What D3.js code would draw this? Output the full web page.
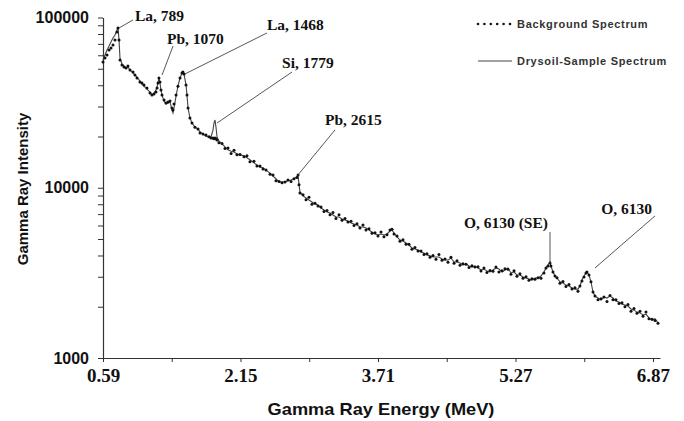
<!DOCTYPE html>
<html>
<head>
<meta charset="utf-8">
<script src="https://cdn.jsdelivr.net/npm/d3@7"></script>
<style>
  body { margin: 0; background: #fff; }
  text { fill: #111; }
</style>
</head>
<body>
<svg id="chart" width="684" height="421"></svg>
<script>
// channel energies (MeV)
const energies = [
  0.590, 0.613, 0.636, 0.659, 0.681, 0.704, 0.727, 0.750, 0.761, 0.773,
  0.784, 0.807, 0.830, 0.853, 0.875, 0.898, 0.933, 0.955, 0.978, 1.012,
  1.035, 1.058, 1.092, 1.127, 1.149, 1.172, 1.195, 1.207, 1.218, 1.229,
  1.241, 1.252, 1.264, 1.287, 1.309, 1.332, 1.355, 1.378, 1.389, 1.401,
  1.424, 1.446, 1.469, 1.492, 1.503, 1.515, 1.538, 1.549, 1.561, 1.583,
  1.606, 1.640, 1.675, 1.698, 1.732, 1.766, 1.800, 1.823, 1.846, 1.857,
  1.869, 1.880, 1.892, 1.914, 1.949, 1.983, 2.017, 2.052, 2.086, 2.120,
  2.154, 2.200, 2.234, 2.268, 2.314, 2.348, 2.383, 2.417, 2.451, 2.497,
  2.531, 2.565, 2.600, 2.634, 2.668, 2.702, 2.737, 2.771, 2.805, 2.817,
  2.828, 2.839, 2.874, 2.908, 2.942, 2.976, 3.011, 3.045, 3.079, 3.113,
  3.148, 3.182, 3.216, 3.250, 3.285, 3.319, 3.353, 3.387, 3.422, 3.456,
  3.490, 3.524, 3.559, 3.593, 3.627, 3.661, 3.696, 3.730, 3.764, 3.798,
  3.833, 3.867, 3.890, 3.913, 3.947, 3.981, 4.015, 4.050, 4.084, 4.118,
  4.152, 4.187, 4.221, 4.255, 4.289, 4.324, 4.358, 4.392, 4.426, 4.461,
  4.495, 4.529, 4.563, 4.598, 4.632, 4.666, 4.700, 4.735, 4.769, 4.803,
  4.837, 4.872, 4.906, 4.940, 4.974, 5.009, 5.043, 5.077, 5.111, 5.146,
  5.180, 5.214, 5.248, 5.283, 5.317, 5.351, 5.386, 5.420, 5.454, 5.488,
  5.523, 5.557, 5.591, 5.625, 5.648, 5.671, 5.694, 5.705, 5.728, 5.751,
  5.774, 5.808, 5.842, 5.876, 5.911, 5.945, 5.979, 6.013, 6.036, 6.059,
  6.082, 6.105, 6.116, 6.139, 6.162, 6.185, 6.208, 6.242, 6.276, 6.310,
  6.345, 6.379, 6.413, 6.447, 6.482, 6.516, 6.550, 6.584, 6.619, 6.653,
  6.687, 6.721, 6.756, 6.790, 6.824, 6.859, 6.893, 6.927
];

// background spectrum counts (dotted)
const background = [
  54800, 57800, 60200, 64400, 66200, 68900, 73800, 82200, 86800, 73800,
  56300, 52600, 51200, 50500, 51900, 49200, 47900, 45900, 44100, 41800,
  41200, 40100, 38500, 36000, 35000, 35500, 36500, 38500, 41200, 44100,
  41800, 37500, 35000, 32800, 31500, 31900, 32300, 29400, 28600, 31000,
  35000, 39500, 44100, 47200, 47900, 46600, 40100, 35000, 29400, 25700,
  24000, 22700, 22100, 21000, 20700, 20400, 19900, 19600, 19600, 19400,
  19600, 19400, 19100, 18400, 18200, 17000, 17100, 15900, 16600, 15600,
  15700, 15200, 15400, 14200, 14300, 13400, 13400, 12900, 12700, 12000,
  11900, 11000, 10900, 10700, 10800, 11100, 10900, 11300, 11500, 11900,
  10400, 9300, 9100, 8500, 8800, 8000, 8100, 7800, 7700, 7250,
  7350, 6950, 7150, 6600, 6950, 6450, 6600, 6300, 6350, 6000,
  6150, 5800, 6050, 5650, 5750, 5400, 5450, 5200, 5500, 5150,
  5300, 5650, 5700, 5350, 5200, 4850, 4950, 4650, 4650, 4350,
  4450, 4250, 4250, 4050, 4100, 3900, 4000, 3800, 4050, 3750,
  3820, 3650, 3900, 3600, 3720, 3500, 3580, 3550, 3400, 3480,
  3420, 3430, 3240, 3380, 3180, 3260, 3230, 3420, 3200, 3250,
  3340, 3320, 3100, 3250, 3020, 3120, 2940, 3000, 2860, 2920,
  2900, 2960, 2940, 3160, 3380, 3470, 3610, 3470, 3200, 3030,
  2960, 2750, 2810, 2630, 2700, 2540, 2590, 2470, 2650, 2830,
  2990, 3160, 3200, 3070, 2800, 2440, 2310, 2200, 2230, 2280,
  2150, 2330, 2200, 2200, 2090, 2110, 2000, 2060, 1880, 1950,
  1830, 1880, 1760, 1860, 1700, 1690, 1660, 1600
];

// drysoil sample spectrum counts (solid)
const sample = [
  56300, 60200, 64400, 68000, 71800, 75800, 78900, 84400, 87900, 73800,
  57800, 53300, 51900, 50500, 51200, 49200, 47200, 45900, 44700, 42300,
  40600, 39500, 38000, 36500, 35000, 36000, 37500, 39100, 41800, 44100,
  41200, 37500, 35000, 32300, 31000, 31500, 31900, 28600, 27500, 29400,
  34500, 39500, 44100, 47200, 47900, 46600, 40100, 35000, 29400, 25700,
  24000, 22700, 22100, 21300, 20700, 20100, 19900, 19900, 21800, 24000,
  25000, 22700, 19900, 18800, 18100, 17400, 16700, 16400, 16200, 15800,
  15600, 15400, 15000, 14600, 14000, 13600, 13200, 13100, 12700, 12200,
  11700, 11300, 10800, 10800, 10800, 11000, 11100, 11300, 11600, 11700,
  10500, 9450, 8950, 8710, 8470, 8250, 8030, 7920, 7600, 7400,
  7200, 7110, 6920, 6730, 6730, 6560, 6460, 6370, 6210, 6120,
  6040, 5880, 5880, 5800, 5650, 5500, 5350, 5280, 5350, 5280,
  5350, 5570, 5650, 5420, 5140, 4930, 4860, 4740, 4610, 4430,
  4370, 4310, 4190, 4140, 4030, 3980, 3920, 3920, 3920, 3820,
  3760, 3760, 3870, 3660, 3660, 3610, 3520, 3570, 3470, 3420,
  3470, 3380, 3290, 3330, 3240, 3200, 3290, 3380, 3330, 3200,
  3290, 3380, 3160, 3200, 3070, 3070, 2990, 2950, 2910, 2870,
  2950, 2950, 3030, 3200, 3380, 3520, 3660, 3470, 3200, 3030,
  2950, 2800, 2760, 2680, 2650, 2580, 2540, 2540, 2650, 2870,
  3030, 3160, 3200, 3070, 2800, 2440, 2310, 2250, 2190, 2280,
  2250, 2310, 2250, 2160, 2130, 2070, 2050, 2020, 1940, 1910,
  1860, 1840, 1790, 1810, 1720, 1670, 1700, 1610
];

const seriesNames = ["Background Spectrum", "Drysoil-Sample Spectrum"];
const xTickLabels = ["0.59", "2.15", "3.71", "5.27", "6.87"];
const yTickLabels = [1000, 10000, 100000];

// peak annotations
const peakLabels = ["La, 789", "Pb, 1070", "La, 1468", "Si, 1779", "Pb, 2615", "O, 6130 (SE)", "O, 6130"];
const peakEnergies = [0.773, 1.264, 1.526, 1.892, 2.817, 5.694, 6.208];
const peakCounts = [86800, 45900, 46600, 24000, 11900, 3610, 3380];

// leader line offsets (px) and text offsets from line end
const leaderDx = [14, 11, 82, 75, 37, 0, 60];
const leaderDy = [-8, -29, -41, -51, -45, -31, -52];
const textDx = [2, -6, 0, -10, -10, -2, -3];
const textDy = [1, -2, -3, -4, -5, -4, -2];
const textAnchor = ["start", "start", "start", "start", "start", "end", "end"];

const svg = d3.select("#chart");

const x = d3.scaleLinear().domain([0.59, 6.95]).range([103, 660]);
const y = d3.scaleLog().domain([1000, 100000]).range([358, 17.5]);

const sans = "'Liberation Sans', Arial, sans-serif";
const serif = "'Liberation Serif', 'Times New Roman', serif";

// y axis
const yAxis = d3.axisLeft(y)
  .tickValues(y.ticks())
  .tickSize(5)
  .tickSizeOuter(0)
  .tickFormat(d => yTickLabels.includes(d) ? String(d) : "");

const gy = svg.append("g")
  .attr("transform", "translate(103,0)")
  .call(yAxis);
gy.select(".domain").attr("stroke", "#333").attr("stroke-width", 1.2);
gy.selectAll(".tick line").attr("stroke", "#333");
gy.selectAll(".tick text")
  .attr("x", -14)
  .style("font-family", sans)
  .style("font-weight", "bold")
  .style("font-size", "16px");

// x axis, labelled ticks evenly spaced like category ticks
const xMajor = d3.range(xTickLabels.length).map(i => 0.59 + i * (6.87 - 0.59) / (xTickLabels.length - 1));
const xMinor = d3.pairs(xMajor).map(p => (p[0] + p[1]) / 2);

const xAxis = d3.axisBottom(x)
  .tickValues(xMajor.concat(xMinor))
  .tickSize(4)
  .tickSizeOuter(0)
  .tickFormat(d => {
    const i = xMajor.indexOf(d);
    return i >= 0 ? xTickLabels[i] : "";
  });

const gx = svg.append("g")
  .attr("transform", "translate(0,358)")
  .call(xAxis);
gx.select(".domain").attr("stroke", "#333").attr("stroke-width", 1.2);
gx.selectAll(".tick line").attr("stroke", "#333");
gx.selectAll(".tick text")
  .attr("y", 24)
  .attr("dy", 0)
  .style("font-family", serif)
  .style("font-weight", "bold")
  .style("font-size", "19px");

// axis titles
svg.append("text")
  .attr("transform", "translate(381,415) scale(1.14,1)")
  .attr("text-anchor", "middle")
  .style("font-family", sans)
  .style("font-weight", "bold")
  .style("font-size", "16px")
  .text("Gamma Ray Energy (MeV)");

svg.append("text")
  .attr("transform", "translate(28,189) rotate(-90)")
  .attr("text-anchor", "middle")
  .style("font-family", sans)
  .style("font-weight", "bold")
  .style("font-size", "15px")
  .text("Gamma Ray Intensity");

// sample spectrum line
const line = d3.line()
  .x((d, i) => x(energies[i]))
  .y(d => y(d));

svg.append("path")
  .datum(sample)
  .attr("fill", "none")
  .attr("stroke", "#444")
  .attr("stroke-width", 1.1)
  .attr("d", line);

// background spectrum dots
svg.append("g")
  .selectAll("circle")
  .data(background)
  .enter()
  .append("circle")
  .attr("cx", (d, i) => x(energies[i]))
  .attr("cy", d => y(d))
  .attr("r", 1.5)
  .attr("fill", "#111");

// peak annotations
const ann = svg.append("g");
peakLabels.forEach((label, i) => {
  const ax = x(peakEnergies[i]);
  const ay = y(peakCounts[i]);
  const ex = ax + leaderDx[i];
  const ey = ay + leaderDy[i];
  ann.append("line")
    .attr("x1", ax).attr("y1", ay)
    .attr("x2", ex).attr("y2", ey)
    .attr("stroke", "#444")
    .attr("stroke-width", 0.9);
  ann.append("text")
    .attr("x", ex + textDx[i])
    .attr("y", ey + textDy[i])
    .attr("text-anchor", textAnchor[i])
    .style("font-family", serif)
    .style("font-weight", "bold")
    .style("font-size", "15.5px")
    .text(label);
});

// legend
const legend = svg.append("g");
legend.selectAll("circle")
  .data(d3.range(6))
  .enter()
  .append("circle")
  .attr("cx", d => 478 + d * 6.4)
  .attr("cy", 24)
  .attr("r", 1.3)
  .attr("fill", "#111");
legend.append("line")
  .attr("x1", 478).attr("x2", 512)
  .attr("y1", 61).attr("y2", 61)
  .attr("stroke", "#444")
  .attr("stroke-width", 1.1);
legend.selectAll("text")
  .data(seriesNames)
  .enter()
  .append("text")
  .attr("x", 517)
  .attr("y", (d, i) => 28 + i * 37)
  .style("font-family", sans)
  .style("font-weight", "bold")
  .style("fill", "#333")
  .style("font-size", "11px")
  .style("letter-spacing", "0.7px")
  .text(d => d);
</script>
</body>
</html>
